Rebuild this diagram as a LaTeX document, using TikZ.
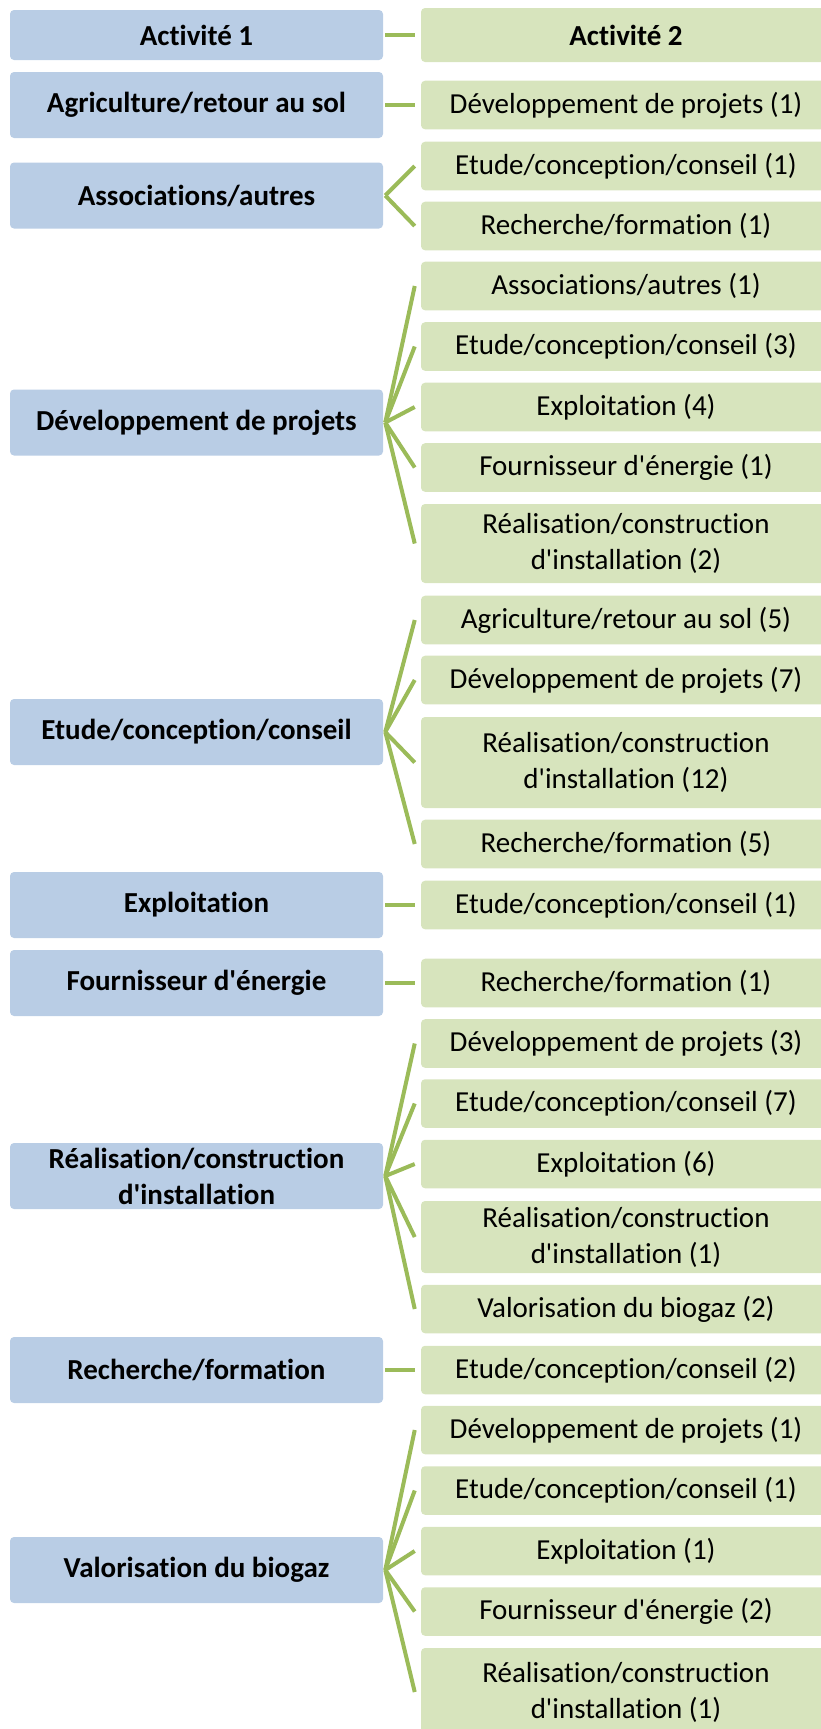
\documentclass[tikz,border=0pt]{standalone}
\usepackage{fontspec}
\setmainfont{Carlito}[Ligatures={TeXOff,NoCommon}]
\usepackage{xcolor}
\definecolor{actblue}{HTML}{B9CDE5}
\definecolor{actgreen}{HTML}{D7E4BD}
\definecolor{linkgreen}{HTML}{9BBB59}

\begin{document}
\begin{tikzpicture}[x=0.75pt, y=-0.75pt,
  leftbox/.style={fill=actblue, rounded corners=3pt, inner sep=0pt, minimum width=279.75pt, minimum height=49.5pt, align=center, font=\fontsize{21.75}{27}\selectfont\bfseries},
  rightbox/.style={fill=actgreen, rounded corners=3pt, inner sep=0pt, minimum width=307.5pt, minimum height=36.4pt, align=center, font=\fontsize{21.75}{27}\selectfont},
  twoline/.style={minimum height=59.25pt},
  link/.style={draw=linkgreen, line width=3pt}
]
\clip (0,0) rectangle (821,1729);

% Header
\node[leftbox, minimum height=37.5pt] (L0) at (196.5,35) {Activité 1};
\node[rightbox, minimum height=40.5pt, font=\fontsize{21.75}{27}\selectfont\bfseries] (R0) at (626,35) {Activité 2};

% Agriculture/retour au sol
\node[leftbox] (L1) at (196.5,105) {Agriculture/retour au sol};
\node[rightbox] (R1a) at (626,105) {Développement de projets (1)};

% Associations/autres
\node[leftbox] (L2) at (196.5,195.5) {Associations/autres};
\node[rightbox] (R2a) at (626,166) {Etude/conception/conseil (1)};
\node[rightbox] (R2b) at (626,226) {Recherche/formation (1)};

% Developpement de projets
\node[leftbox] (L3) at (196.5,422.5) {Développement de projets};
\node[rightbox] (R3a) at (626,286) {Associations/autres (1)};
\node[rightbox] (R3b) at (626,346.5) {Etude/conception/conseil (3)};
\node[rightbox] (R3c) at (626,407) {Exploitation (4)};
\node[rightbox] (R3d) at (626,467.5) {Fournisseur d'énergie (1)};
\node[rightbox, twoline] (R3e) at (626,543.5) {Réalisation/construction\\d'installation (2)};

% Etude/conception/conseil
\node[leftbox] (L4) at (196.5,732) {Etude/conception/conseil};
\node[rightbox] (R4a) at (626,620) {Agriculture/retour au sol (5)};
\node[rightbox] (R4b) at (626,680) {Développement de projets (7)};
\node[rightbox, minimum height=68.25pt] (R4c) at (626,762.5) {Réalisation/construction\\d'installation (12)};
\node[rightbox] (R4d) at (626,844) {Recherche/formation (5)};

% Exploitation
\node[leftbox] (L5) at (196.5,905) {Exploitation};
\node[rightbox] (R5a) at (626,905) {Etude/conception/conseil (1)};

% Fournisseur d'energie
\node[leftbox] (L6) at (196.5,983) {Fournisseur d'énergie};
\node[rightbox] (R6a) at (626,983) {Recherche/formation (1)};

% Realisation/construction d'installation
\node[leftbox] (L7) at (196.5,1176) {Réalisation/construction\\d'installation};
\node[rightbox] (R7a) at (626,1043.5) {Développement de projets (3)};
\node[rightbox] (R7b) at (626,1103.5) {Etude/conception/conseil (7)};
\node[rightbox] (R7c) at (626,1164) {Exploitation (6)};
\node[rightbox, minimum height=54pt] (R7d) at (626,1237) {Réalisation/construction\\d'installation (1)};
\node[rightbox] (R7e) at (626,1309) {Valorisation du biogaz (2)};

% Recherche/formation
\node[leftbox] (L8) at (196.5,1370) {Recherche/formation};
\node[rightbox] (R8a) at (626,1370) {Etude/conception/conseil (2)};

% Valorisation du biogaz
\node[leftbox] (L9) at (196.5,1570) {Valorisation du biogaz};
\node[rightbox] (R9a) at (626,1430) {Développement de projets (1)};
\node[rightbox] (R9b) at (626,1490.5) {Etude/conception/conseil (1)};
\node[rightbox] (R9c) at (626,1551) {Exploitation (1)};
\node[rightbox] (R9d) at (626,1611.5) {Fournisseur d'énergie (2)};
\node[rightbox, minimum height=66pt] (R9e) at (626,1692) {Réalisation/construction\\d'installation (1)};

% Links
\foreach \l/\r in {L0/R0, L1/R1a, L2/R2a, L2/R2b,
                   L3/R3a, L3/R3b, L3/R3c, L3/R3d, L3/R3e,
                   L4/R4a, L4/R4b, L4/R4c, L4/R4d,
                   L5/R5a, L6/R6a,
                   L7/R7a, L7/R7b, L7/R7c, L7/R7d, L7/R7e,
                   L8/R8a,
                   L9/R9a, L9/R9b, L9/R9c, L9/R9d, L9/R9e}
  \draw[link] ([xshift=1.5pt]\l.east) -- ([xshift=-4.5pt]\r.west);
\end{tikzpicture}
\end{document}
